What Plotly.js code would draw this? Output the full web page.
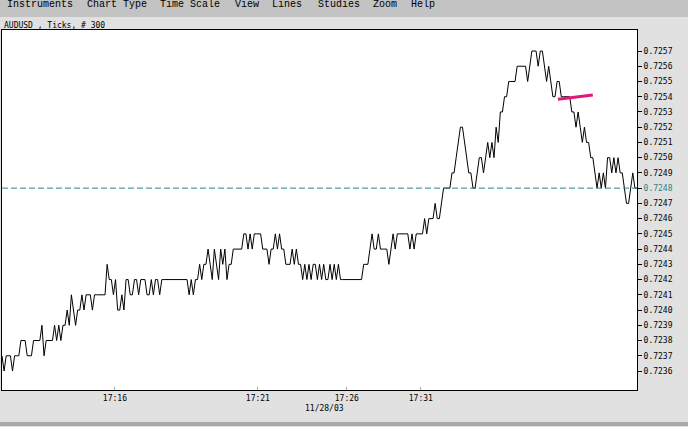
<!DOCTYPE html>
<html>
<head>
<meta charset="utf-8">
<script src="https://cdn.plot.ly/plotly-3.0.1.min.js"></script>
<style>html,body{margin:0;padding:0;background:#e1e1e1;}#chart{width:688px;height:427px;}</style>
</head>
<body>
<div id="chart"></div>
<script>
// Tick prices, stored as pips above 0.7200 (e.g. 37 -> 0.7237), one per tick, left to right
const pipsA = [37,36,37,37,37,36,37,37,37,38,38,38,37,37,37,38,38,38,38,39,37,38,38,38,38,39,38,39,38,39,39,40,39,41,40,39,40,40,41,40,41,41,41,40,41,41,41,41,41,41,43,42,42,41,42,40,40,41,40];
const pipsB = [42,42,41,41,42,42,41,42,42,42,41,41,42,41,42,42,41,42,42,42,42,42,42,42,42,42,42,42,42];
const pipsC = [42,41,42,41,42,42,43,42,43,43,44,43,42,44,43,42,44,43,44,42,43,43,44,44,44,44,44,45];
const pipsD = [45,44,45,44,45,45,45,45,44,44,44,43,44,44,45,44,45,44,44,43,43,43,44,43,44,43,43,42,43,42,43,42,43,43,42,43,42,43,42,42,43,42,43,42,43,42,42];
const pipsE = [42,42,42,42,42,42,42,42,42,43,43,43,44,45,44,44,45,44,44,44,44,43,44,45,44,45,45,45,45,45];
const pipsF = [45,44,45,44,45,45,45,45,46,45,46,46,46,47,46,46,47,48,48,48,48,49,49,50,51,52,52,51,50,49,49,48,48,49,50,50,49,50,51,50,51,50,52,51,53,53,54,54,55,55,55,55];
const pipsG = [56,56,56,56,56,55,56,57,57,57,56,57,57,56,55,56,55,54,54,55,55,54,54,54,54,54,53,53,52,53,52,51,52,51,51,50,50,49,48,49,48,49,48,50,50,49,50,49,50,49,49,48,47,47,48,49,48,48];

// Axis tick labels
const yTickPips = [57,56,55,54,53,52,51,50,49,48,47,46,45,44,43,42,41,40,39,38,37,36];
const markedPip = 48;                       // price marked by the dashed level line
const xTickIdx = [53.7, 121.7, 164, 199.2];
const xTickText = ["17:16", "17:21", "17:26", "17:31"];
const dateText = "11/28/03";
const titleText = "AUDUSD , Ticks, # 300";
const menuItems = ["Instruments", "Chart Type", "Time Scale", "View", "Lines", "Studies", "Zoom", "Help"];
const menuX = [5, 85, 158, 233, 270, 316, 371, 409];

// Drawn trend line (tick index, price)
const trendX = [264.4, 281];
const trendY = [0.725383, 0.725411];

const toPrice = p => (7200 + p) / 10000;
const pips = [].concat(pipsA, pipsB, pipsC, pipsD, pipsE, pipsF, pipsG);
const price = pips.map(toPrice);
const idx = pips.map((_, i) => i);

const mono = "DejaVu Sans Mono, monospace";
const teal = "#2f8282";

const yTickVals = yTickPips.map(toPrice);
const yTickText = yTickPips.map(p => {
  const s = toPrice(p).toFixed(4);
  return p === markedPip ? '<span style="color:' + teal + '">' + s + '</span>' : s;
});

const W = 688, H = 427, L = 2, R = 637, T = 30, B = 390;
const px = x => (x - L) / (R - L);
const py = y => (B - y) / (B - T);

const traces = [
  {x: idx, y: price, type: "scatter", mode: "lines", line: {color: "#000", width: 1}, hoverinfo: "skip"},
  {x: trendX, y: trendY, type: "scatter", mode: "lines", line: {color: "#e0197d", width: 3}, hoverinfo: "skip"}
];

const annotations = [];
menuItems.forEach((m, i) => annotations.push({
  text: m, x: px(menuX[i]), y: py(4), xref: "paper", yref: "paper",
  xanchor: "left", yanchor: "middle", showarrow: false,
  font: {family: "Liberation Mono, monospace", size: 10, color: "#000"}
}));
annotations.push({text: titleText, x: px(2), y: py(25), xref: "paper", yref: "paper",
  xanchor: "left", yanchor: "middle", showarrow: false, font: {family: mono, size: 8, color: "#000"}});
annotations.push({text: dateText, x: px(324), y: py(408), xref: "paper", yref: "paper",
  xanchor: "center", yanchor: "middle", showarrow: false, font: {family: mono, size: 8, color: "#000"}});

const shapes = [
  {type: "rect", xref: "paper", yref: "paper", x0: px(0), x1: px(W), y0: py(0), y1: py(17),
   fillcolor: "#c3c3c3", line: {width: 0}, layer: "below"},
  {type: "rect", xref: "paper", yref: "paper", x0: px(0), x1: px(W), y0: py(422), y1: py(426),
   fillcolor: "#a9a9a9", line: {width: 0}, layer: "below"},
  {type: "line", xref: "paper", yref: "y", x0: 0, x1: 1, y0: toPrice(markedPip), y1: toPrice(markedPip),
   line: {color: teal, width: 1, dash: "6px,3px"}}
];

const layout = {
  width: W, height: H,
  margin: {l: L, r: W - R, t: T, b: H - B, pad: 0},
  paper_bgcolor: "#e1e1e1", plot_bgcolor: "#ffffff",
  showlegend: false,
  xaxis: {range: [0, pips.length - 1], showgrid: false, zeroline: false,
    showline: true, mirror: true, linecolor: "#000", linewidth: 1,
    tickmode: "array", tickvals: xTickIdx, ticktext: xTickText,
    ticks: "inside", ticklen: 3, tickcolor: "#aaa",
    tickfont: {family: mono, size: 8, color: "#000"}},
  yaxis: {range: [0.7234753, 0.7258378], side: "right", showgrid: false, zeroline: false,
    showline: true, mirror: true, linecolor: "#000", linewidth: 1,
    tickmode: "array", tickvals: yTickVals, ticktext: yTickText,
    ticks: "outside", ticklen: 4, tickcolor: "#000",
    tickfont: {family: mono, size: 8, color: "#000"}},
  annotations: annotations,
  shapes: shapes
};

Plotly.newPlot("chart", traces, layout, {displayModeBar: false, staticPlot: true});
</script>
</body>
</html>
